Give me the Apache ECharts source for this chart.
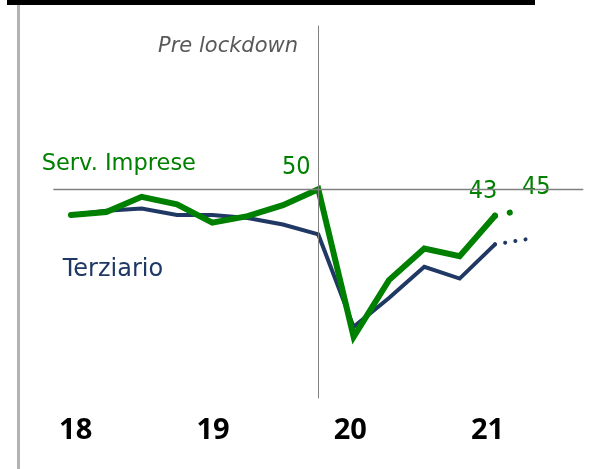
<!DOCTYPE html>
<html>
<head>
<meta charset="utf-8">
<script src="https://cdn.jsdelivr.net/npm/echarts@6/dist/echarts.min.js"></script>
<style>
    html, body { margin: 0; padding: 0; background: #fff; }
    #main { width: 589px; height: 469px; }
</style>
</head>
<body>
<div id="main"></div>
<script>
// trimestri (l'ultimo serve solo come spazio a destra)
var quarters = ['I-18', 'II-18', 'III-18', 'IV-18', 'I-19', 'II-19', 'III-19', 'IV-19',
    'I-20', 'II-20', 'III-20', 'IV-20', 'I-21', 'II-21', 'III-21'];
var years = [18, 19, 20, 21];
// Serv. Imprese
var servImprese = [43.2, 44.0, 48.0, 46.0, 41.2, 42.9, 45.8, 50, 11.2, 26.1, 34.4, 32.4, 43];
var servImpreseStima = [43, 45];
// Terziario
var terziario = [43.2, 44.3, 44.9, 43.2, 43.2, 42.4, 40.7, 38.1, 13.8, 21.4, 29.6, 26.5, 35.5];
var terziarioStima = [35.5, 37];
var lockdownIndex = 7;
var lineaRif = 50;

var verde = '#008000',
    blu = '#1f3864';

// serie tratteggiata: vuota fino all'ultimo dato reale
function stima(arr, start) {
    var out = [];
    for (var i = 0; i < start; i++) out.push(null);
    return out.concat(arr);
}
// etichetta numerica su un punto
function lab(v, dx, dy) {
    return {
        value: v,
        label: {
            show: true,
            position: 'top',
            distance: 0,
            offset: [dx, dy],
            color: verde,
            fontSize: 25,
            lineHeight: 25,
            fontFamily: "'DejaVu Sans Condensed', Roboto, sans-serif",
            formatter: function(p) { return Math.round(p.value); }
        }
    };
}

var lastIdx = servImprese.length - 1;
var servData = servImprese.map(function(v, i) {
    if (i === lockdownIndex) return lab(v, -22, -9);
    if (i === lastIdx) return lab(v, -12, -12);
    return v;
});
var servStimaData = stima(servImpreseStima, lastIdx).map(function(v, i) {
    if (i === lastIdx + 1) return lab(v, 6, -8);
    return v;
});

var chart = echarts.init(document.getElementById('main'), null, { renderer: 'canvas' });
var option = {
    animation: false,
    grid: { left: 53.3, right: 5.7, top: 25.6, bottom: 70.6 },
    xAxis: [{
        type: 'category',
        data: quarters,
        boundaryGap: true,
        axisLine: { show: false },
        axisTick: { show: false },
        axisLabel: { show: false }
    }, {
        // solo per le etichette degli anni
        type: 'value',
        min: 17.837,
        max: 21.697,
        position: 'bottom',
        axisLine: { show: false },
        axisTick: { show: false },
        splitLine: { show: false },
        axisLabel: {
            customValues: years,
            margin: 18,
            color: '#000',
            fontSize: 29,
            fontWeight: 'bold',
            fontFamily: "'Open Sans', sans-serif",
            formatter: function(v) { return String(v); }
        }
    }],
    yAxis: {
        type: 'value',
        min: -5,
        max: 93,
        show: false,
        splitLine: { show: false }
    },
    series: [{
        name: 'Terziario',
        type: 'line',
        data: terziario,
        symbol: 'none',
        silent: true,
        lineStyle: { color: blu, width: 4, join: 'miter', cap: 'round' },
        markLine: {
            silent: true,
            symbol: 'none',
            label: { show: false },
            lineStyle: { color: '#808080', width: 1.3, type: 'solid' },
            data: [{ yAxis: lineaRif }, { xAxis: lockdownIndex, lineStyle: { width: 1 } }]
        }
    }, {
        name: 'Terziario stima',
        type: 'line',
        data: stima(terziarioStima, lastIdx),
        symbol: 'none',
        silent: true,
        lineStyle: { color: blu, width: 4, type: [0.1, 10.2], cap: 'round' }
    }, {
        name: 'Serv. Imprese',
        type: 'line',
        data: servData,
        symbol: 'circle',
        symbolSize: 0,
        showSymbol: true,
        silent: true,
        itemStyle: { color: verde },
        lineStyle: { color: verde, width: 6, join: 'miter', cap: 'round' }
    }, {
        name: 'Serv. Imprese stima',
        type: 'line',
        data: servStimaData,
        symbol: 'circle',
        symbolSize: 0,
        showSymbol: true,
        silent: true,
        itemStyle: { color: verde },
        lineStyle: { color: verde, width: 6, type: [0.1, 15, 0.1, 100], cap: 'round' }
    }],
    graphic: [{
        type: 'rect', silent: true,
        shape: { x: 7, y: 0, width: 528, height: 5 },
        style: { fill: '#000' }
    }, {
        type: 'rect', silent: true,
        shape: { x: 17, y: 5, width: 3, height: 464 },
        style: { fill: '#b3b3b3' }
    }, {
        type: 'text', silent: true, x: 298, y: 47,
        style: {
            text: 'Pre lockdown', align: 'right', verticalAlign: 'middle',
            fill: '#595959', fontSize: 21, fontStyle: 'italic', fontFamily: "'DejaVu Sans', sans-serif"
        }
    }, {
        type: 'text', silent: true, x: 41.7, y: 164,
        style: {
            text: 'Serv. Imprese', align: 'left', verticalAlign: 'middle',
            fill: verde, fontSize: 22.5, fontFamily: "'DejaVu Sans', sans-serif"
        }
    }, {
        type: 'text', silent: true, x: 62.7, y: 270,
        style: {
            text: 'Terziario', align: 'left', verticalAlign: 'middle',
            fill: blu, fontSize: 24, fontFamily: "'DejaVu Sans', sans-serif"
        }
    }]
};
chart.setOption(option);
</script>
</body>
</html>
